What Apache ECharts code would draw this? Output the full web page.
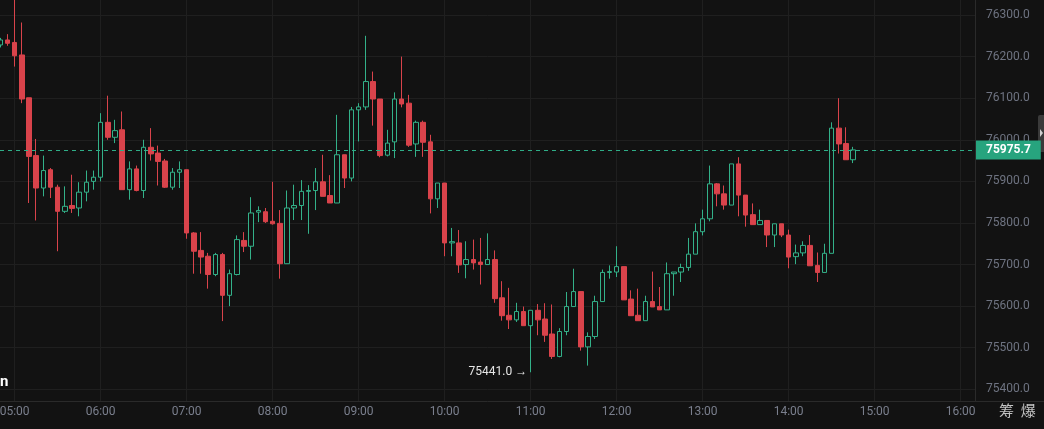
<!DOCTYPE html>
<html>
<head>
<meta charset="utf-8">
<script src="https://cdn.jsdelivr.net/npm/echarts@6/dist/echarts.min.js"></script>
<style>
    html,body{margin:0;padding:0;background:#121212;}
    #main{width:1044px;height:429px;}
</style>
</head>
<body>
<div id="main"></div>
<script>
    // 5分钟K线，[open, close, low, high]，第一根 04:50
    var firstBar = '04:50';
    var kData = [
        [76228, 76240, 76222, 76245], [76240, 76232, 76226, 76254], [76234, 76202, 76176, 76345], [76204, 76098, 76088, 76282],
        [76101, 75960, 75848, 76101], [75962, 75884, 75806, 76002], [75884, 75926, 75864, 75962], [75928, 75886, 75860, 75932],
        [75886, 75828, 75732, 75892], [75828, 75840, 75824, 75888], [75842, 75835, 75824, 75916], [75836, 75874, 75816, 75898],
        [75874, 75898, 75852, 75926], [75900, 75910, 75880, 75926], [75910, 76042, 75900, 76064], [76042, 76006, 76000, 76106],
        [76006, 76022, 75992, 76048], [76024, 75880, 75880, 76068], [75880, 75930, 75856, 75948], [75930, 75878, 75876, 75938],
        [75878, 75982, 75860, 76000], [75982, 75966, 75950, 76028], [75968, 75948, 75890, 75986], [75949, 75886, 75884, 75954],
        [75886, 75922, 75880, 75932], [75922, 75928, 75884, 75948], [75928, 75776, 75762, 75928], [75776, 75732, 75678, 75778],
        [75734, 75718, 75678, 75778], [75720, 75676, 75642, 75728], [75676, 75724, 75672, 75728], [75724, 75626, 75564, 75728],
        [75626, 75678, 75600, 75688], [75676, 75760, 75674, 75770], [75758, 75744, 75730, 75778], [75744, 75824, 75712, 75862],
        [75826, 75830, 75802, 75840], [75827, 75803, 75800, 75836], [75804, 75798, 75796, 75899], [75799, 75702, 75666, 75831],
        [75702, 75836, 75702, 75878], [75836, 75842, 75807, 75892], [75842, 75876, 75807, 75903], [75876, 75878, 75774, 75891],
        [75878, 75899, 75831, 75932], [75899, 75864, 75864, 75964], [75866, 75848, 75848, 75915], [75848, 75964, 75848, 76060],
        [75964, 75908, 75884, 75964], [75908, 76072, 75900, 76079], [76072, 76079, 75996, 76088], [76079, 76140, 76072, 76250],
        [76140, 76098, 76034, 76164], [76098, 75962, 75958, 76098], [75963, 75992, 75960, 76024], [75995, 76098, 75956, 76114],
        [76098, 76086, 76078, 76200], [76088, 75987, 75983, 76108], [75990, 76042, 75959, 76046], [76042, 75994, 75959, 76046],
        [75995, 75858, 75823, 76012], [75858, 75896, 75836, 75896], [75896, 75752, 75720, 75896], [75752, 75755, 75720, 75788],
        [75752, 75699, 75680, 75783], [75700, 75712, 75667, 75756], [75712, 75704, 75688, 75760], [75706, 75700, 75652, 75764],
        [75700, 75712, 75700, 75775], [75712, 75618, 75608, 75734], [75620, 75577, 75565, 75660], [75578, 75567, 75545, 75644],
        [75567, 75587, 75562, 75608], [75587, 75553, 75553, 75599], [75553, 75590, 75441, 75590], [75590, 75567, 75530, 75605],
        [75569, 75530, 75514, 75607], [75533, 75479, 75473, 75604], [75479, 75539, 75477, 75547], [75539, 75599, 75530, 75634],
        [75599, 75635, 75599, 75690], [75635, 75502, 75493, 75635], [75502, 75527, 75457, 75537], [75527, 75611, 75521, 75625],
        [75611, 75681, 75611, 75688], [75681, 75683, 75666, 75698], [75682, 75695, 75670, 75744], [75695, 75615, 75615, 75695],
        [75617, 75577, 75577, 75638], [75578, 75565, 75565, 75642], [75565, 75611, 75565, 75625], [75611, 75598, 75598, 75683],
        [75599, 75591, 75591, 75646], [75591, 75678, 75591, 75705], [75678, 75682, 75625, 75682], [75682, 75693, 75658, 75702],
        [75693, 75725, 75685, 75764], [75725, 75779, 75725, 75799], [75779, 75810, 75770, 75832], [75810, 75894, 75804, 75938],
        [75894, 75870, 75840, 75896], [75870, 75843, 75832, 75890], [75843, 75942, 75843, 75942], [75942, 75867, 75816, 75958],
        [75867, 75819, 75791, 75867], [75820, 75796, 75796, 75847], [75796, 75806, 75796, 75832], [75806, 75771, 75742, 75806],
        [75771, 75798, 75742, 75798], [75798, 75771, 75766, 75798], [75771, 75718, 75691, 75784], [75719, 75728, 75701, 75748],
        [75728, 75746, 75720, 75756], [75746, 75697, 75697, 75771], [75698, 75681, 75658, 75729], [75681, 75727, 75681, 75750],
        [75727, 76028, 75727, 76042], [76028, 75990, 75967, 76100], [75991, 75952, 75952, 76030], [75952, 75975.7, 75944, 75983]
    ];
    var lastPrice = 75975.7;
    var minTime = '11:00', minPrice = 75441.0;
    // 可视范围（分钟 / 价格）
    var xMin = '04:49.77', xMax = '16:10';
    var yMin = 75371.9, yMax = 76336.1;

    function toMin(t) {
        var p = t.split(':');
        return (+p[0]) * 60 + parseFloat(p[1]);
    }
    function toLabel(v) {
        return ('0' + Math.floor(v / 60)).slice(-2) + ':' + ('0' + Math.round(v % 60)).slice(-2);
    }
    var seriesData = [];
    kData.forEach(function (item, i) {
        seriesData.push([toMin(firstBar) + i * 5].concat(item));
    });

    var upColor = '#33b189', downColor = '#d9434b';

    var chart = echarts.init(document.getElementById('main'));
    chart.setOption({
        backgroundColor: '#121212',
        animation: false,
        textStyle: {fontFamily: 'Roboto, sans-serif'},
        grid: {left: 0, right: 69, top: 0, bottom: 28, containLabel: false, outerBoundsMode: 'none'},
        xAxis: {
            type: 'value',
            min: toMin(xMin),
            max: toMin(xMax),
            splitNumber: 12,
            minInterval: 60,
            maxInterval: 60,
            axisLine: {show: true, lineStyle: {color: '#2a2a2a'}},
            axisTick: {show: false},
            axisLabel: {
                color: '#7a7f8d', fontSize: 12, margin: 5,
                showMinLabel: false, showMaxLabel: false,
                formatter: toLabel
            },
            splitLine: {show: true, showMinLine: false, showMaxLine: false, lineStyle: {color: '#1f1f1f'}}
        },
        yAxis: {
            type: 'value',
            position: 'right',
            min: yMin,
            max: yMax,
            splitNumber: 10,
            minInterval: 100,
            maxInterval: 100,
            axisLine: {show: true, lineStyle: {color: '#2a2a2a'}},
            axisTick: {show: false},
            axisLabel: {
                color: '#6e7381', fontSize: 12, margin: 11,
                showMinLabel: false, showMaxLabel: false,
                formatter: function (v) { return v.toFixed(1); }
            },
            splitLine: {showMinLine: false, showMaxLine: false, lineStyle: {color: '#1f1f1f'}}
        },
        series: [
            {
                type: 'candlestick',
                data: seriesData,
                encode: {x: 0, y: [1, 2, 3, 4]},
                barWidth: 5,
                itemStyle: {
                    color: '#121212',
                    color0: downColor,
                    borderColor: upColor,
                    borderColor0: downColor,
                    borderWidth: 1
                },
                markLine: {
                    silent: true,
                    symbol: ['none', 'none'],
                    data: [{yAxis: lastPrice}],
                    lineStyle: {color: '#2fae88', type: [4, 4], width: 1},
                    label: {
                        position: 'end', distance: 1,
                        formatter: lastPrice.toFixed(1),
                        backgroundColor: '#27a47e', color: '#ffffff',
                        fontWeight: 'bold', fontSize: 12, padding: [4, 10, 3, 10]
                    }
                },
                markPoint: {
                    silent: true,
                    symbol: 'circle',
                    symbolSize: 1,
                    itemStyle: {color: 'rgba(0,0,0,0)'},
                    data: [{coord: [toMin(minTime), minPrice], value: minPrice}],
                    label: {
                        show: true, position: 'left', distance: 3,
                        formatter: minPrice.toFixed(1) + ' →',
                        color: '#e6e6e6', fontSize: 12
                    }
                }
            }
        ],
        graphic: [
            {type: 'text', left: 0, top: 375, style: {text: 'n', fill: '#ffffff', font: 'bold 15px Roboto'}},
            {type: 'text', left: 999, top: 403, style: {text: '筹  爆', fill: '#c4c4c4', font: '15px "Noto Sans CJK SC"'}},
            {type: 'line', shape: {x1: 975, y1: 401.5, x2: 1044, y2: 401.5}, style: {stroke: '#2a2a2a', lineWidth: 1}},
            {type: 'rect', shape: {x: 1038, y: 115, width: 8, height: 37, r: 2}, style: {fill: '#3a3a3a'}},
            {type: 'polygon', shape: {points: [[1040, 129], [1043, 133], [1040, 137]]}, style: {fill: '#cfcfcf'}}
        ]
    });
</script>
</body>
</html>
